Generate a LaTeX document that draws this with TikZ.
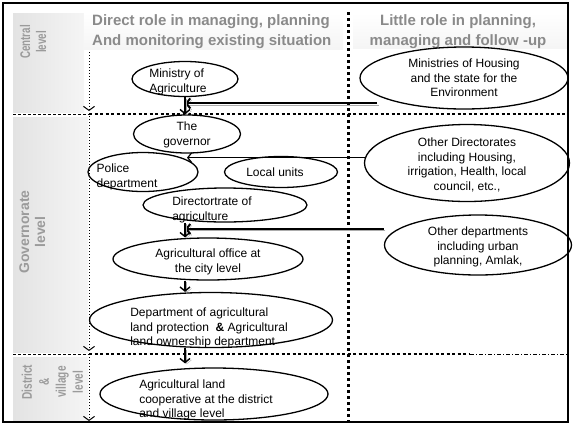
\documentclass[tikz,border=0pt]{standalone}
\usepackage{fontspec}
\setmainfont{Liberation Sans}
\usepackage{tikz}
\usetikzlibrary{shapes.geometric,arrows.meta}

\definecolor{headgray}{RGB}{138,138,138}
\definecolor{sidegray}{RGB}{155,155,155}

\newcommand{\sidelines}[2]{\scalebox{#1}[1]{\begin{tabular}{@{}c@{}}#2\end{tabular}}}

\tikzset{
  unit/.style={ellipse, draw, line width=1.3pt, inner sep=0pt},
  txt/.style={font=\fontsize{12}{14.5}\selectfont, align=center, inner sep=0pt},
  headtext/.style={font=\bfseries\fontsize{15}{19.5}\selectfont, text=headgray, inner sep=0pt},
  sidetext/.style={font=\bfseries\fontsize{14}{16}\selectfont, text=sidegray, rotate=90, inner sep=0pt},
  flow/.style={line width=1.4pt, -{Straight Barb[length=4pt,width=10pt]}},
  shadowflow/.style={flow, preaction={draw=gray!65, transform canvas={shift={(1.5pt,-1.5pt)}}}},
  levelflow/.style={line width=1pt, dotted, -{Straight Barb[length=4pt,width=11pt]}},
  bigdots/.style={line width=3pt, dash pattern=on 3pt off 3pt},
  rowline/.style={line width=2.5pt, dash pattern=on 3pt off 2.5pt},
  thinrow/.style={line width=1pt, dash pattern=on 3pt off 2pt}
}

\begin{document}
\begin{tikzpicture}[x=1pt, y=-1pt]
 \useasboundingbox (0,0) rectangle (578,424);
 % panels
 \shade[left color=gray!22, right color=gray!8] (13,13) rectangle (84,112);
 \shade[left color=gray!22, right color=gray!8] (13,117) rectangle (88,352);
 \shade[left color=gray!22, right color=gray!8] (13,357) rectangle (88,420);
 \shade[top color=white, bottom color=gray!8] (84,13) rectangle (343,49);
 \shade[top color=white, bottom color=gray!8] (353,13) rectangle (567,48);

 \node[headtext, anchor=west, align=left] (hdirect) at (92,31.5) {Direct role in managing, planning\\And monitoring existing situation};
 \node[headtext, align=center] (hlittle) at (458,31.5) {Little role in planning,\\managing and follow -up};

 \node[sidetext] (lcentral) at (35,42) {\sidelines{0.7}{Central\\level}};
 \node[sidetext] (lgov) at (34,232) {\sidelines{1}{Governorate\\level}};
 \node[sidetext, font=\bfseries\fontsize{14}{17}\selectfont] (ldistrict) at (54,382) {\sidelines{0.72}{District\\\&\\village\\level}};

 % grid lines
 \draw[thinrow] (13,114) -- (89,114);
 \draw[rowline] (89,114) -- (567,114);
 \draw[thinrow] (13,354) -- (89,354);
 \draw[rowline] (89,354) -- (470,354);
 \draw[thinrow, dash pattern=on 4pt off 2pt on 1pt off 2pt] (470,354) -- (567,354);
 \draw[bigdots] (348,12) -- (348,421);

 \coordinate (cen-top) at (89,52);
 \coordinate (cen-bot) at (89,111);
 \coordinate (gov-top) at (89,116);
 \coordinate (gov-bot) at (89,351);
 \coordinate (dis-top) at (89,357);
 \coordinate (dis-bot) at (89,421);
 \draw[levelflow] (cen-top) -- (cen-bot);
 \draw[levelflow] (gov-top) -- (gov-bot);
 \draw[levelflow] (dis-top) -- (dis-bot);

 % units
 \node[unit, minimum width=106pt, minimum height=35pt,
   label={[txt, align=left, xshift=-7pt, yshift=-3pt]center:{Ministry of\\Agriculture}}] (min) at (185,79) {};
 \node[unit, minimum width=208pt, minimum height=62pt,
   label={[txt]center:{Ministries of Housing\\and the state for the\\Environment}}] (hous) at (464,78) {};
 \node[unit, minimum width=107pt, minimum height=38pt,
   label={[txt, yshift=-1pt]center:{The\\governor}}] (gov) at (187,134) {};
 \node[unit, minimum width=110pt, minimum height=39pt,
   label={[txt, align=left, xshift=-16pt, yshift=-5pt]center:{Police\\department}}] (pol) at (143,172) {};
 \node[unit, minimum width=113pt, minimum height=31pt,
   label={[txt, xshift=-6pt]center:{Local units}}] (loc) at (281,172) {};
 \node[unit, minimum width=164pt, minimum height=34pt,
   label={[txt, align=left, xshift=-13pt, yshift=-5pt]center:{Directortrate of\\agriculture}}] (dirc) at (225,205) {};
 \node[unit, minimum width=205pt, minimum height=77pt,
   label={[txt, yshift=-2pt]center:{Other Directorates\\including Housing,\\irrigation, Health, local\\council, etc.,}}] (odir) at (467,163) {};
 \node[unit, minimum width=187pt, minimum height=60pt,
   label={[txt, yshift=-2pt]center:{Other departments\\including urban\\planning, Amlak,}}] (odep) at (478,245) {};
 \node[unit, minimum width=190pt, minimum height=42pt,
   label={[txt, yshift=-3pt]center:{Agricultural office at\\the city level}}] (agoff) at (208,259) {};
 \node[unit, minimum width=243pt, minimum height=55pt,
   label={[txt, align=left, xshift=-2pt, yshift=-8pt]center:{Department of agricultural\\land protection\ \ \textbf{\&} Agricultural\\land ownership department}}] (dept) at (211,320) {};
 \node[unit, minimum width=228pt, minimum height=52pt,
   label={[txt, align=left, xshift=-8pt, yshift=-6pt]center:{Agricultural land\\cooperative at the district\\and village level}}] (coop) at (214,394) {};

 % connectors
 \coordinate (hous-out) at ([xshift=-13pt, yshift=-3pt]hous.south west);
 \coordinate (odep-out) at ([yshift=16pt]odep.west);
 \draw[shadowflow, line width=2pt] (hous-out) -- (hous-out -| min.south);
 \draw[shadowflow] (min.south) -- (min.south |- gov.north);
 \draw[flow, line width=1.2pt] (odir.177) -- (odir.177 -| gov.south);
 \draw[shadowflow, line width=2pt] (odep-out) -- (odep-out -| min.south);
 \draw[shadowflow] (dirc.south -| min.south) -- (agoff.north -| min.south);
 \draw[shadowflow] (agoff.south -| min.south) -- (dept.north -| min.south);
 \draw[shadowflow] (dept.south -| min.south) -- ([yshift=4pt]coop.north -| min.south);

 \draw[line width=1.5pt] (3,3) rectangle (568,422);
\end{tikzpicture}
\end{document}
